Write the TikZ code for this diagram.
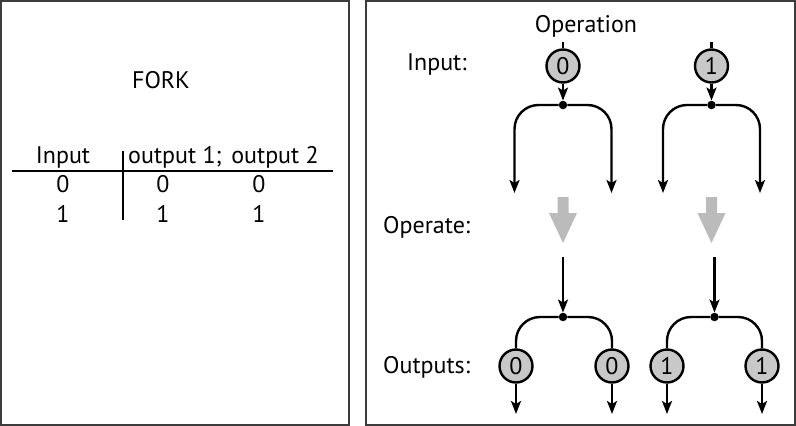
\documentclass[tikz,border=0pt]{standalone}
\usepackage{fontspec}
\setmainfont{PT Sans}
\usetikzlibrary{arrows.meta}
\definecolor{ForkFill}{HTML}{C8C8C8}
\definecolor{ForkShade}{HTML}{BBBBBB}
\definecolor{ForkFrame}{HTML}{3C3C3C}

\begin{document}
\begin{tikzpicture}[x=1pt,y=-1pt,font=\fontsize{24}{28}\selectfont,
  bit/.style={circle,draw,line width=2.4pt,fill=ForkFill,minimum size=33pt,inner sep=0pt},
  junction/.style={circle,fill,inner sep=0pt,minimum size=8.5pt},
  wire/.style={line width=2.4pt},
  feed/.style={wire,-{Stealth[length=13pt,width=10pt,inset=3pt]}}]
  \useasboundingbox (0,0) rectangle (796,426);
  % frames
  \draw[ForkFrame,line width=1.6pt] (0.8,0.8) rectangle (349,425.2);
  \draw[ForkFrame,line width=1.6pt] (366,0.8) rectangle (795.2,425.2);

  % truth table
  \node[anchor=base] (fork) at (161,88) {FORK};
  \node[anchor=base] (hin) at (63,163) {Input};
  \node[anchor=base west,inner sep=0pt] (hout1) at (128,163) {output 1;};
  \node[anchor=base east,inner sep=0pt] (hout2) at (319,163) {output 2};
  \draw[line width=2.6pt] (12,171)--(333,171);
  \draw[line width=2.6pt] (123,151)--(123,220);
  \foreach \v/\y in {0/192,1/222}{
     \node[anchor=base] (a\v) at (63,\y){\v};
     \node[anchor=base] (b\v) at (163,\y){\v};
     \node[anchor=base] (c\v) at (259,\y){\v};}

  % row labels
  \node[anchor=base] (op) at (586,32) {Operation};
  \node[anchor=base west,inner sep=0pt] (lin) at (407,70) {Input:};
  \node[anchor=base west,inner sep=0pt] (lop) at (383,233) {Operate:};
  \node[anchor=base west,inner sep=0pt] (lout) at (383,373) {Outputs:};

  % one fork per input value
  \foreach \b/\xt/\xb/\xl/\xr in {0/563/563/516/612,1/711.5/714.5/667/762}{
     % input side
     \coordinate (top\b) at (\xt,42);
     \node[bit] (in\b) at (\xt,66) {\b};
     \draw[wire] (top\b)--(in\b);
     \node[junction] (sp\b) at (\xt,105) {};
     \draw[feed] (in\b)--(sp\b);
     \coordinate (lt\b) at (\xt-48.5,193);
     \coordinate (rt\b) at (\xt+48.5,193);
     \draw[feed,rounded corners=24pt] (sp\b)-|(lt\b);
     \draw[feed,rounded corners=24pt] (sp\b)-|(rt\b);
     % operate
     \fill[ForkShade] (\xt-5.5,197)--(\xt+5.5,197)--(\xt+5.5,213)--(\xt+14,213)
        --(\xt,243)--(\xt-14,213)--(\xt-5.5,213)--cycle;
     % output side
     \coordinate (src\b) at (\xb,257);
     \node[junction] (mg\b) at (\xb,317) {};
     \draw[feed] (src\b)--(mg\b);
     \node[bit] (ol\b) at (\xl,366) {\b};
     \node[bit] (or\b) at (\xr,366) {\b};
     \draw[wire,rounded corners=24pt] (mg\b)-|(ol\b);
     \draw[wire,rounded corners=24pt] (mg\b)-|(or\b);
     \coordinate (el\b) at (\xl,414);
     \coordinate (er\b) at (\xr,414);
     \draw[feed] (ol\b)--(el\b);
     \draw[feed] (or\b)--(er\b);}
\end{tikzpicture}
\end{document}
